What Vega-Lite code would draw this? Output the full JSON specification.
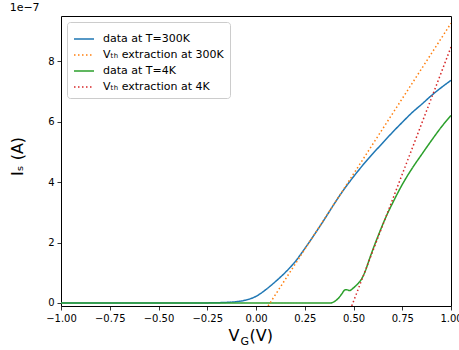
{
  "$schema": "https://vega.github.io/schema/vega-lite/v6.json",
  "autosize": {"type": "none"},
  "width": 390,
  "height": 290,
  "padding": {"left": 61, "top": 16, "right": 8, "bottom": 44},
  "background": "white",
  "config": {
    "font": "DejaVu Sans",
    "view": {"stroke": "#000", "strokeWidth": 1},
    "axis": {"grid": false, "domain": false, "tickColor": "#000", "tickSize": 4, "tickWidth": 0.8, "labelFontSize": 10, "labelColor": "#000", "labelPadding": 3, "labelFlush": false, "labelOverlap": false, "titleFontWeight": "normal", "titleColor": "#000"}
  },
  "title": {"text": "1e\u22127", "anchor": "start", "fontSize": 11, "fontWeight": "normal", "offset": 3, "color": "#000"},
  "datasets": {
    "data": [
      {"series": "data at T=300K", "VG": -1.0, "IS": 0},
      {"series": "data at T=300K", "VG": -0.5, "IS": 0},
      {"series": "data at T=300K", "VG": -0.3, "IS": 0},
      {"series": "data at T=300K", "VG": -0.25, "IS": 0.003},
      {"series": "data at T=300K", "VG": -0.2, "IS": 0.008},
      {"series": "data at T=300K", "VG": -0.15, "IS": 0.02},
      {"series": "data at T=300K", "VG": -0.1, "IS": 0.045},
      {"series": "data at T=300K", "VG": -0.05, "IS": 0.1},
      {"series": "data at T=300K", "VG": 0.0, "IS": 0.22},
      {"series": "data at T=300K", "VG": 0.05, "IS": 0.44},
      {"series": "data at T=300K", "VG": 0.1, "IS": 0.71},
      {"series": "data at T=300K", "VG": 0.15, "IS": 1.01},
      {"series": "data at T=300K", "VG": 0.2, "IS": 1.36},
      {"series": "data at T=300K", "VG": 0.25, "IS": 1.8},
      {"series": "data at T=300K", "VG": 0.3, "IS": 2.27},
      {"series": "data at T=300K", "VG": 0.35, "IS": 2.76},
      {"series": "data at T=300K", "VG": 0.4, "IS": 3.27},
      {"series": "data at T=300K", "VG": 0.45, "IS": 3.75},
      {"series": "data at T=300K", "VG": 0.5, "IS": 4.18},
      {"series": "data at T=300K", "VG": 0.55, "IS": 4.58},
      {"series": "data at T=300K", "VG": 0.6, "IS": 4.95},
      {"series": "data at T=300K", "VG": 0.65, "IS": 5.3},
      {"series": "data at T=300K", "VG": 0.7, "IS": 5.65},
      {"series": "data at T=300K", "VG": 0.75, "IS": 5.98},
      {"series": "data at T=300K", "VG": 0.8, "IS": 6.3},
      {"series": "data at T=300K", "VG": 0.85, "IS": 6.58},
      {"series": "data at T=300K", "VG": 0.9, "IS": 6.87},
      {"series": "data at T=300K", "VG": 0.95, "IS": 7.13},
      {"series": "data at T=300K", "VG": 1.0, "IS": 7.37},
      {"series": "data at T=4K", "VG": -1.0, "IS": 0},
      {"series": "data at T=4K", "VG": 0.38, "IS": 0},
      {"series": "data at T=4K", "VG": 0.4, "IS": 0.04},
      {"series": "data at T=4K", "VG": 0.42, "IS": 0.14},
      {"series": "data at T=4K", "VG": 0.44, "IS": 0.3},
      {"series": "data at T=4K", "VG": 0.455, "IS": 0.43},
      {"series": "data at T=4K", "VG": 0.465, "IS": 0.44},
      {"series": "data at T=4K", "VG": 0.48, "IS": 0.41},
      {"series": "data at T=4K", "VG": 0.5, "IS": 0.5},
      {"series": "data at T=4K", "VG": 0.52, "IS": 0.62},
      {"series": "data at T=4K", "VG": 0.54, "IS": 0.78},
      {"series": "data at T=4K", "VG": 0.56, "IS": 1.05},
      {"series": "data at T=4K", "VG": 0.58, "IS": 1.42},
      {"series": "data at T=4K", "VG": 0.6, "IS": 1.78},
      {"series": "data at T=4K", "VG": 0.625, "IS": 2.2},
      {"series": "data at T=4K", "VG": 0.65, "IS": 2.6},
      {"series": "data at T=4K", "VG": 0.675, "IS": 2.97},
      {"series": "data at T=4K", "VG": 0.7, "IS": 3.3},
      {"series": "data at T=4K", "VG": 0.75, "IS": 3.92},
      {"series": "data at T=4K", "VG": 0.8, "IS": 4.45},
      {"series": "data at T=4K", "VG": 0.85, "IS": 4.92},
      {"series": "data at T=4K", "VG": 0.9, "IS": 5.38},
      {"series": "data at T=4K", "VG": 0.95, "IS": 5.82},
      {"series": "data at T=4K", "VG": 1.0, "IS": 6.21}
    ],
    "fits": [
      {"series": "V\u209c\u2095 extraction at 300K", "VG": 0.062, "IS": -0.1},
      {"series": "V\u209c\u2095 extraction at 300K", "VG": 1.0, "IS": 9.26},
      {"series": "V\u209c\u2095 extraction at 4K", "VG": 0.491, "IS": -0.1},
      {"series": "V\u209c\u2095 extraction at 4K", "VG": 1.0, "IS": 8.47}
    ]
  },
  "encoding": {
    "x": {"field": "VG", "type": "quantitative", "scale": {"domain": [-1, 1], "nice": false, "zero": false}},
    "y": {"field": "IS", "type": "quantitative", "scale": {"domain": [-0.1, 9.5], "nice": false, "zero": false},
      "axis": {"values": [0, 2, 4, 6, 8], "title": "I\u209b (A)", "titleFontSize": 16, "titlePadding": 22, "titleY": 140}},
    "color": {"field": "series", "type": "nominal",
      "scale": {"domain": ["data at T=300K", "V\u209c\u2095 extraction at 300K", "data at T=4K", "V\u209c\u2095 extraction at 4K"],
        "range": ["#1f77b4", "#ff7f0e", "#2ca02c", "#d62728"]},
      "legend": {"title": null, "orient": "none", "legendX": 6, "legendY": 6, "symbolType": "stroke", "symbolSize": 400, "symbolStrokeWidth": 1.5,
        "labelFontSize": 11, "labelColor": "#000", "rowPadding": -2, "padding": 6, "fillColor": "white", "strokeColor": "#ccc", "cornerRadius": 3, "labelOffset": 8}},
    "strokeDash": {"field": "series", "type": "nominal",
      "scale": {"domain": ["data at T=300K", "V\u209c\u2095 extraction at 300K", "data at T=4K", "V\u209c\u2095 extraction at 4K"],
        "range": [[1, 0], [1.5, 2.5], [1, 0], [1.5, 2.5]]},
      "legend": {"title": null, "orient": "none", "legendX": 6, "legendY": 6, "symbolType": "stroke", "symbolSize": 400, "symbolStrokeWidth": 1.5,
        "labelFontSize": 11, "labelColor": "#000", "rowPadding": -2, "padding": 6, "fillColor": "white", "strokeColor": "#ccc", "cornerRadius": 3, "labelOffset": 8}}
  },
  "layer": [
    {
      "data": {"name": "data"},
      "mark": {"type": "line", "strokeWidth": 1.5, "interpolate": "monotone", "clip": true},
      "encoding": {
        "x": {"field": "VG", "type": "quantitative",
          "axis": {"values": [-1, -0.75, -0.5, -0.25, 0, 0.25, 0.5, 0.75, 1], "format": ".2f", "title": "V\u00a0\u00a0(V)", "titleFontSize": 16,
            "titleAlign": "left", "titleBaseline": "alphabetic", "titleX": 167, "titleY": 34}}
      }
    },
    {
      "data": {"name": "fits"},
      "mark": {"type": "line", "strokeWidth": 1.5, "clip": true},
      "encoding": {
        "x": {"field": "VG", "type": "quantitative",
          "axis": {"orient": "bottom", "labels": false, "ticks": false, "domain": false, "title": "G", "titleFontSize": 11,
            "titleAlign": "left", "titleBaseline": "alphabetic", "titleX": 179, "titleY": 38}}
      }
    }
  ],
  "resolve": {"axis": {"x": "independent"}}
}
